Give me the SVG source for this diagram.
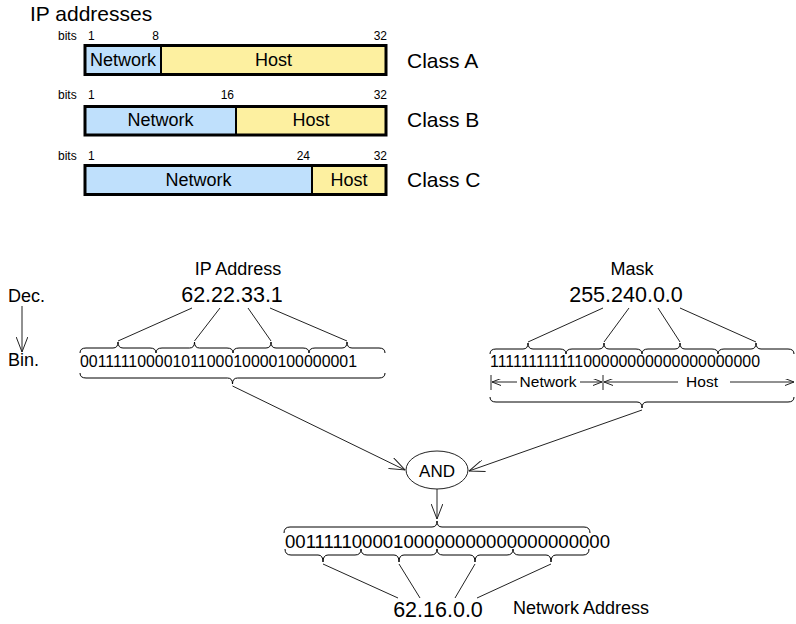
<svg xmlns="http://www.w3.org/2000/svg" width="796" height="624" viewBox="0 0 796 624">
  <style>
    text { font-family: "Liberation Sans", Arial, sans-serif; fill: #000; }
    .title { font-size: 21px; }
    .bits { font-size: 12px; }
    .cls { font-size: 21px; }
    .seg { font-size: 18px; text-anchor: middle; }
    .lbl { font-size: 18px; text-anchor: middle; }
    .num { font-size: 21.5px; text-anchor: middle; }
    .bin { font-size: 15.6px; }
    .side { font-size: 18px; }
    .small { font-size: 15.5px; text-anchor: middle; }
    .net { fill: #bfe0fc; }
    .host { fill: #fdf0a0; }
    .frame { fill: none; stroke: #000; stroke-width: 3; }
    .div { stroke: #000; stroke-width: 2; }
    .brace { fill: none; stroke: #000; stroke-width: 1; }
    .thin { fill: none; stroke: #222; stroke-width: 1; }
    .arrow { fill: none; stroke: #222; stroke-width: 1; marker-end: url(#open); }
    .arrowS { fill: none; stroke: #222; stroke-width: 1; marker-end: url(#openSmall); }
  </style>
  <defs>
    <marker id="open" viewBox="0 0 16 12" refX="15.5" refY="6" markerWidth="16" markerHeight="12" markerUnits="userSpaceOnUse" orient="auto">
      <path d="M0,0 L15.5,6 L0,12" fill="none" stroke="#222" stroke-width="1"/>
    </marker>
    <marker id="openSmall" viewBox="0 0 9 7" refX="9" refY="3.5" markerWidth="9" markerHeight="7" markerUnits="userSpaceOnUse" orient="auto">
      <path d="M0,0 L9,3.5 L0,7" fill="none" stroke="#222" stroke-width="1"/>
    </marker>
  </defs>

  <!-- Address class layouts -->
  <text class="title" x="30" y="21">IP addresses</text>

  <g id="classA">
    <text class="bits" x="58" y="40">bits</text>
    <text class="bits" x="88" y="40">1</text>
    <text class="bits" x="159" y="40" text-anchor="end">8</text>
    <text class="bits" x="387" y="40" text-anchor="end">32</text>
    <rect class="net" x="85" y="45.5" width="76" height="29"/>
    <rect class="host" x="161" y="45.5" width="225" height="29"/>
    <line class="div" x1="161" y1="45.5" x2="161" y2="74.5"/>
    <rect class="frame" x="85" y="45.5" width="301" height="29"/>
    <text class="seg" x="123" y="66">Network</text>
    <text class="seg" x="273.5" y="66">Host</text>
    <text class="cls" x="407" y="68">Class A</text>
  </g>

  <g id="classB">
    <text class="bits" x="58" y="99">bits</text>
    <text class="bits" x="88" y="99">1</text>
    <text class="bits" x="234" y="99" text-anchor="end">16</text>
    <text class="bits" x="387" y="99" text-anchor="end">32</text>
    <rect class="net" x="85" y="106.5" width="151" height="28.5"/>
    <rect class="host" x="236" y="106.5" width="150" height="28.5"/>
    <line class="div" x1="236" y1="106.5" x2="236" y2="135"/>
    <rect class="frame" x="85" y="106.5" width="301" height="28.5"/>
    <text class="seg" x="160.5" y="126">Network</text>
    <text class="seg" x="311" y="126">Host</text>
    <text class="cls" x="407" y="127">Class B</text>
  </g>

  <g id="classC">
    <text class="bits" x="58" y="160">bits</text>
    <text class="bits" x="88" y="160">1</text>
    <text class="bits" x="310" y="160" text-anchor="end">24</text>
    <text class="bits" x="387" y="160" text-anchor="end">32</text>
    <rect class="net" x="85" y="165.5" width="227" height="29"/>
    <rect class="host" x="312" y="165.5" width="74" height="29"/>
    <line class="div" x1="312" y1="165.5" x2="312" y2="194.5"/>
    <rect class="frame" x="85" y="165.5" width="301" height="29"/>
    <text class="seg" x="198.5" y="186">Network</text>
    <text class="seg" x="349" y="186">Host</text>
    <text class="cls" x="407" y="187">Class C</text>
  </g>

  <!-- Dec. to Bin. legend -->
  <g id="legend">
    <text class="side" x="8" y="302">Dec.</text>
    <line class="arrow" x1="22" y1="306" x2="22" y2="352"/>
    <text class="side" x="8" y="366">Bin.</text>
  </g>

  <!-- IP address -->
  <g id="ipAddress">
    <text class="lbl" x="238" y="275">IP Address</text>
    <text class="num" x="232" y="302">62.22.33.1</text>
    <text class="bin" x="80" y="367" textLength="277" lengthAdjust="spacingAndGlyphs">00111110000101100010000100000001</text>
    <path class="brace" d="M80,353 Q80,348 86,348 L113,348 Q118,348 118,342 Q118,348 123,348 L150,348 Q156,348 156,353"/>
    <path class="brace" d="M156,353 Q156,348 162,348 L189.5,348 Q194.5,348 194.5,342 Q194.5,348 199.5,348 L227,348 Q233,348 233,353"/>
    <path class="brace" d="M233,353 Q233,348 239,348 L266,348 Q271,348 271,342 Q271,348 276,348 L303,348 Q309,348 309,353"/>
    <path class="brace" d="M309,353 Q309,348 315,348 L342,348 Q347,348 347,342 Q347,348 352,348 L379,348 Q385,348 385,353"/>
    <path class="brace" d="M80,373 Q80,378 86,378 L227.5,378 Q232.5,378 232.5,384 Q232.5,378 237.5,378 L379,378 Q385,378 385,373"/>
  </g>

  <!-- Subnet mask -->
  <g id="mask">
    <text class="lbl" x="632" y="275">Mask</text>
    <text class="num" x="626" y="302">255.240.0.0</text>
    <text class="bin" x="490" y="367" textLength="270" lengthAdjust="spacingAndGlyphs">11111111111100000000000000000000</text>
    <path class="brace" d="M490,354 Q490,349 496,349 L523,349 Q528,349 528,343 Q528,349 533,349 L560,349 Q566,349 566,354"/>
    <path class="brace" d="M566,354 Q566,349 572,349 L599,349 Q604,349 604,343 Q604,349 609,349 L636,349 Q642,349 642,354"/>
    <path class="brace" d="M642,354 Q642,349 648,349 L675,349 Q680,349 680,343 Q680,349 685,349 L712,349 Q718,349 718,354"/>
    <path class="brace" d="M718,354 Q718,349 724,349 L751,349 Q756,349 756,343 Q756,349 761,349 L788,349 Q794,349 794,354"/>
    <line class="thin" x1="491" y1="375" x2="491" y2="390"/>
    <line class="thin" x1="603" y1="375" x2="603" y2="390"/>
    <line class="arrowS" x1="517" y1="382" x2="492" y2="382"/>
    <text class="small" x="548" y="387">Network</text>
    <line class="arrowS" x1="580" y1="382" x2="602" y2="382"/>
    <line class="arrowS" x1="678" y1="382" x2="604" y2="382"/>
    <text class="small" x="702" y="387">Host</text>
    <line class="arrowS" x1="730" y1="382" x2="794" y2="382"/>
    <path class="brace" d="M490,397 Q490,402 496,402 L637,402 Q642,402 642,408 Q642,402 647,402 L788,402 Q794,402 794,397"/>
  </g>

  <!-- AND operation -->
  <g id="andOp">
    <ellipse cx="437" cy="470" rx="31" ry="19" fill="#fff" stroke="#222" stroke-width="1"/>
    <text class="lbl" x="437" y="477" style="font-size:17px">AND</text>
  </g>

  <!-- Network address result -->
  <g id="result">
    <text x="285" y="548" style="font-size:18px" textLength="325" lengthAdjust="spacingAndGlyphs">00111110000100000000000000000000</text>
    <path class="brace" d="M284,533 Q284,527 290,527 L432,527 Q437,527 437,521 Q437,527 442,527 L584,527 Q590,527 590,533"/>
    <path class="brace" d="M285,549 Q285,555 291,555 L318,555 Q323,555 323,562 Q323,555 328,555 L355,555 Q361,555 361,549"/>
    <path class="brace" d="M361,549 Q361,555 367,555 L394,555 Q399,555 399,562 Q399,555 404,555 L431,555 Q437,555 437,549"/>
    <path class="brace" d="M437,549 Q437,555 443,555 L470,555 Q475,555 475,562 Q475,555 480,555 L507,555 Q513,555 513,549"/>
    <path class="brace" d="M513,549 Q513,555 519,555 L546,555 Q551,555 551,562 Q551,555 556,555 L583,555 Q589,555 589,549"/>
    <text class="num" x="438" y="617">62.16.0.0</text>
    <text x="513" y="614" style="font-size:18px">Network Address</text>
  </g>

  <!-- Connectors -->
  <g id="connectors">
    <line class="thin" x1="118" y1="341" x2="192" y2="308"/>
    <line class="thin" x1="194.5" y1="341" x2="220" y2="308"/>
    <line class="thin" x1="271" y1="341" x2="248" y2="308"/>
    <line class="thin" x1="347" y1="341" x2="270" y2="308"/>
    <line class="thin" x1="528" y1="342" x2="603" y2="308"/>
    <line class="thin" x1="604" y1="342" x2="629" y2="308"/>
    <line class="thin" x1="680" y1="342" x2="658" y2="308"/>
    <line class="thin" x1="756" y1="342" x2="680" y2="308"/>
    <line class="arrow" x1="232.5" y1="386" x2="405" y2="470"/>
    <line class="arrow" x1="642" y1="410" x2="469" y2="471"/>
    <line class="arrow" x1="437" y1="489" x2="437" y2="519"/>
    <line class="thin" x1="323" y1="564" x2="398" y2="598"/>
    <line class="thin" x1="399" y1="564" x2="420" y2="598"/>
    <line class="thin" x1="475" y1="564" x2="455" y2="598"/>
    <line class="thin" x1="551" y1="564" x2="477" y2="598"/>
  </g>
</svg>
